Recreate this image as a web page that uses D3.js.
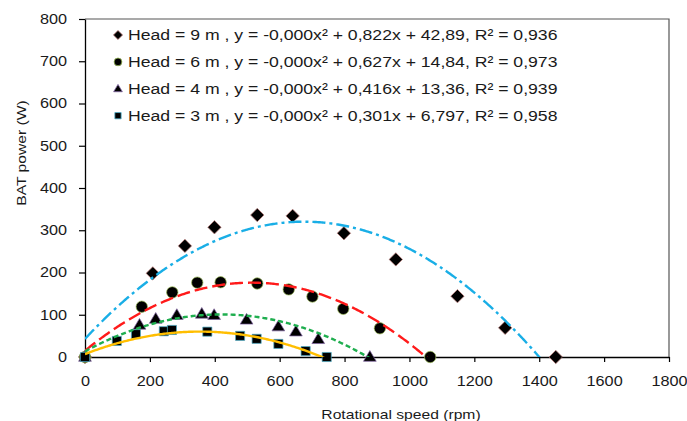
<!DOCTYPE html>
<html>
<head>
<meta charset="utf-8">
<script src="https://cdn.jsdelivr.net/npm/d3@7"></script>
<style>
  html, body { margin: 0; padding: 0; background: #fff; }
  svg { display: block; }
  text { font-family: "Liberation Sans", Arial, sans-serif; fill: #1a1a1a; }
</style>
</head>
<body>
<svg id="chart" width="687" height="421"></svg>
<script>
// ---- data ----
const seriesNames = ["Head = 9 m", "Head = 6 m", "Head = 4 m", "Head = 3 m"];
const head9X = [0, 209, 308, 399, 531, 640, 798, 958, 1148, 1295, 1451];
const head9Y = [0, 198, 263, 307, 336, 334, 293, 231, 144, 69, 0];
const head6X = [0, 175, 269, 346, 418, 531, 628, 701, 796, 909, 1064];
const head6Y = [0, 119, 153, 176, 177, 174, 160, 143, 114, 68, 0];
const head4X = [0, 168, 218, 283, 360, 398, 498, 596, 650, 719, 878];
const head4Y = [0, 76, 90, 99, 102, 99, 88, 72, 60, 42, 0];
const head3X = [0, 98, 157, 243, 268, 377, 478, 529, 596, 680, 745];
const head3Y = [0, 38, 54, 61, 64, 60, 50, 43, 31, 14, 0];
// polynomial trendline coefficients y = a x^2 + b x + c
const fitA = [-0.000609, -0.000610, -0.000495, -0.000425];
const fitB = [0.822, 0.627, 0.416, 0.301];
const fitC = [42.89, 14.84, 13.36, 6.797];
const fitLabels = [
  "y = -0,000x² + 0,822x + 42,89, R² = 0,936",
  "y = -0,000x² + 0,627x + 14,84, R² = 0,973",
  "y = -0,000x² + 0,416x + 13,36, R² = 0,939",
  "y = -0,000x² + 0,301x + 6,797, R² = 0,958"
];
const xTicks = [0, 200, 400, 600, 800, 1000, 1200, 1400, 1600, 1800];
const yTicks = [0, 100, 200, 300, 400, 500, 600, 700, 800];

// ---- styles ----
const markerKinds = ["diamond", "circle", "triangle", "square"];
const markerEdge = ["#c0807e", "#9bbb59", "#8064a2", "#4bacc6"];
const lineColors = ["#19aee6", "#ff1a1a", "#1fae4f", "#ffbe00"];
const lineDash = ["13,4,3,4", "13,5", "5,3", null];
const STRETCH = 1.16;

const svg = d3.select("#chart");
const m = { left: 85, right: 669, top: 19, bottom: 357 };
const x = d3.scaleLinear().domain([0, 1800]).range([m.left, m.right]);
const y = d3.scaleLinear().domain([0, 800]).range([m.bottom, m.top]);

const xs = [head9X, head6X, head4X, head3X];
const ys = [head9Y, head6Y, head4Y, head3Y];

function markerPath(kind, r) {
  const p = d3.path();
  if (kind === "diamond") {
    p.moveTo(0, -r); p.lineTo(r, 0); p.lineTo(0, r); p.lineTo(-r, 0); p.closePath();
  } else if (kind === "circle") {
    p.arc(0, 0, r * 0.85, 0, 2 * Math.PI);
  } else if (kind === "triangle") {
    const h = r * 1.6;
    p.moveTo(0, -h * 0.6); p.lineTo(r * 0.95, h * 0.4); p.lineTo(-r * 0.95, h * 0.4); p.closePath();
  } else {
    const s = r * 0.68;
    p.rect(-s, -s, 2 * s, 2 * s);
  }
  return p.toString();
}

// frame (top and right)
svg.append("path")
  .attr("d", `M${m.left},${m.top}H${m.right}V${m.bottom}`)
  .attr("fill", "none").attr("stroke", "#555").attr("stroke-width", 1.2);

// axes
const gx = svg.append("g").attr("transform", `translate(0,${m.bottom})`)
  .call(d3.axisBottom(x).tickValues(xTicks).tickFormat(d3.format("d")).tickSize(5).tickPadding(14).tickSizeOuter(0));
const gy = svg.append("g").attr("transform", `translate(${m.left},0)`)
  .call(d3.axisLeft(y).tickValues(yTicks).tickFormat(d3.format("d")).tickSize(6).tickPadding(12).tickSizeOuter(0));
[gx, gy].forEach(g => {
  g.select(".domain").attr("stroke", "#000").attr("stroke-width", 1.3);
  g.selectAll(".tick line").attr("stroke", "#000").attr("stroke-width", 1.2);
  g.selectAll(".tick text").attr("font-size", 14).attr("font-family", "Liberation Sans, Arial, sans-serif").attr("fill", "#1a1a1a");
});

// axis titles
svg.append("text")
  .attr("x", 401).attr("y", 419).attr("text-anchor", "middle")
  .attr("font-size", 13.5).text("Rotational speed (rpm)");
svg.append("text")
  .attr("transform", "translate(26,153) rotate(-90)")
  .attr("text-anchor", "middle").attr("font-size", 13.5).text("BAT power (W)");

// markers
const gm = svg.append("g");
xs.forEach((sx, i) => {
  gm.selectAll(null).data(sx.map((v, j) => [v, ys[i][j]])).enter()
    .append("path")
    .attr("d", markerPath(markerKinds[i], 6.7))
    .attr("transform", d => `translate(${x(d[0])},${y(d[1])})`)
    .attr("fill", "#000").attr("stroke", markerEdge[i]).attr("stroke-width", 1).attr("stroke-opacity", 0.7);
});

// trendlines
svg.append("clipPath").attr("id", "clip").append("rect")
  .attr("x", m.left).attr("y", m.top).attr("width", m.right - m.left).attr("height", m.bottom - m.top);
const line = d3.line().x(d => x(d[0])).y(d => y(d[1]));
xs.forEach((sx, i) => {
  const xmax = d3.max(sx);
  const pts = d3.range(0, xmax + 1, 4).map(v => [v, fitA[i] * v * v + fitB[i] * v + fitC[i]]);
  svg.append("path").attr("clip-path", "url(#clip)")
    .attr("d", line(pts)).attr("fill", "none")
    .attr("stroke", lineColors[i]).attr("stroke-width", 2.4)
    .attr("stroke-dasharray", lineDash[i]);
});

// legend
const lg = svg.append("g");
seriesNames.forEach((name, i) => {
  const by = 40 + i * 26.9;
  lg.append("path").attr("d", markerPath(markerKinds[i], 4.6))
    .attr("transform", `translate(118,${by - 5})`)
    .attr("fill", "#000").attr("stroke", markerEdge[i]).attr("stroke-width", 0.8);
  lg.append("text")
    .attr("x", 128).attr("y", by).attr("font-size", 15.2)
    .text(name + " , " + fitLabels[i]);
});

// horizontal stretch of the reference's text
svg.selectAll("text").each(function () {
  const w = this.getComputedTextLength();
  d3.select(this).attr("textLength", w * STRETCH).attr("lengthAdjust", "spacingAndGlyphs");
});
</script>
</body>
</html>
